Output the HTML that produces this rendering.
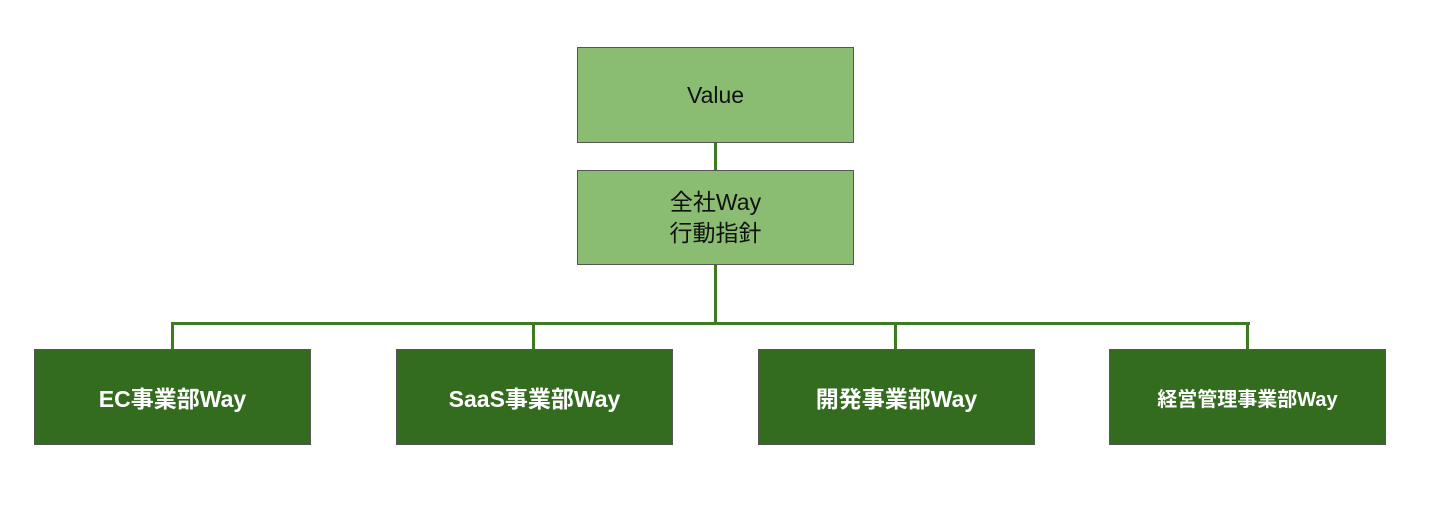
<!DOCTYPE html>
<html><head><meta charset="utf-8"><style>
body{margin:0;width:1440px;height:526px;background:#fff;position:relative;overflow:hidden;font-family:"Liberation Sans","Noto Sans CJK JP",sans-serif}
.b{position:absolute;box-sizing:border-box;border:1.5px solid #555;display:flex;align-items:center;justify-content:center;text-align:center}
.l{background:#8abd72;color:#111;font-size:23px;line-height:31px}
.d{background:#336b1f;color:#fff;font-weight:bold;font-size:23px}
.ln{position:absolute;background:#3e7a22}
</style></head><body>
<div class="ln" style="left:714px;top:142px;width:3px;height:28px"></div>
<div class="ln" style="left:714px;top:264px;width:3px;height:60px"></div>
<div class="ln" style="left:171px;top:322px;width:1079px;height:3px"></div>
<div class="ln" style="left:171px;top:322px;width:3px;height:27px"></div>
<div class="ln" style="left:532px;top:322px;width:3px;height:27px"></div>
<div class="ln" style="left:894px;top:322px;width:3px;height:27px"></div>
<div class="ln" style="left:1246px;top:322px;width:3px;height:27px"></div>
<div class="b l" style="left:577px;top:47px;width:277px;height:96px">Value</div>
<div class="b l" style="left:577px;top:170px;width:277px;height:95px">全社Way<br>行動指針</div>
<div class="b d" style="left:34px;top:349px;width:277px;height:96px">EC事業部Way</div>
<div class="b d" style="left:396px;top:349px;width:277px;height:96px">SaaS事業部Way</div>
<div class="b d" style="left:758px;top:349px;width:277px;height:96px">開発事業部Way</div>
<div class="b d" style="left:1109px;top:349px;width:277px;height:96px;font-size:20px">経営管理事業部Way</div>
</body></html>
